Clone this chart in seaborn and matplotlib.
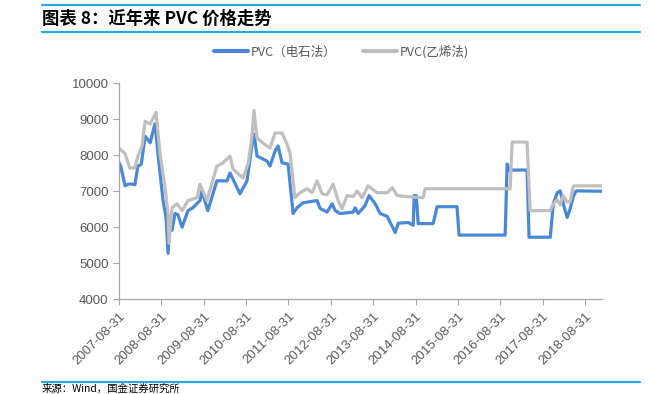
import pandas as pd
import matplotlib
matplotlib.use("Agg")
import matplotlib.pyplot as plt
import matplotlib.dates as mdates
from matplotlib.lines import Line2D
import seaborn as sns

# PVC (电石法)
carbide_dates = ["2007-08-31", "2007-09-15", "2007-10-22", "2007-11-20", "2007-12-20", "2008-01-15",
                 "2008-02-10", "2008-03-10", "2008-04-12", "2008-05-26", "2008-07-06", "2008-08-10",
                 "2008-09-14", "2008-10-10", "2008-10-27", "2008-11-13", "2008-11-30", "2008-12-26",
                 "2009-01-20", "2009-02-25", "2009-04-17", "2009-06-01", "2009-07-29", "2009-08-15",
                 "2009-10-05", "2009-12-22", "2010-03-19", "2010-04-14", "2010-07-09", "2010-09-08",
                 "2010-10-21", "2010-11-07", "2010-12-03", "2011-02-28", "2011-03-25", "2011-05-08",
                 "2011-06-03", "2011-07-07", "2011-08-28", "2011-10-10", "2011-11-13", "2012-01-04",
                 "2012-05-04", "2012-05-30", "2012-07-29", "2012-09-11", "2012-10-07", "2012-11-19",
                 "2013-03-11", "2013-03-28", "2013-04-23", "2013-06-22", "2013-07-27", "2013-09-17",
                 "2013-10-30", "2013-12-30", "2014-01-25", "2014-03-09", "2014-04-04", "2014-06-29",
                 "2014-08-11", "2014-08-20", "2014-09-06", "2014-09-23", "2015-01-30", "2015-03-05",
                 "2015-08-24", "2015-09-10", "2016-10-12", "2016-10-29", "2016-11-16", "2017-04-19",
                 "2017-05-06", "2017-11-05", "2017-12-01", "2018-01-04", "2018-01-30", "2018-03-05",
                 "2018-03-31", "2018-04-26", "2018-05-22", "2018-06-16", "2019-01-25"]
carbide_price = [7800, 7700, 7150, 7200, 7200, 7180,
                 7700, 7750, 8530, 8350, 8880, 7760,
                 6740, 6270, 5270, 6270, 5910, 6380,
                 6350, 6000, 6460, 6550, 6740, 7010,
                 6460, 7290, 7290, 7510, 6930, 7290,
                 8310, 8590, 7980, 7840, 7700, 8120,
                 8260, 7790, 7760, 6380, 6540, 6680,
                 6740, 6520, 6420, 6650, 6460, 6380,
                 6420, 6540, 6380, 6600, 6880, 6650,
                 6380, 6300, 6130, 5850, 6110, 6130,
                 6050, 6880, 6880, 6100, 6100, 6570,
                 6570, 5780, 5780, 7760, 7590, 7590,
                 5720, 5720, 6650, 6960, 7010, 6550,
                 6270, 6520, 6850, 7010, 7000]

# PVC(乙烯法)
ethylene_dates = ["2007-08-31", "2007-10-22", "2007-12-02", "2008-01-15", "2008-02-10", "2008-03-17",
                  "2008-04-12", "2008-05-26", "2008-07-15", "2008-08-19", "2008-10-01", "2008-10-27",
                  "2008-11-04", "2008-11-30", "2009-01-12", "2009-02-25", "2009-04-17", "2009-07-03",
                  "2009-07-29", "2009-09-27", "2009-12-22", "2010-02-13", "2010-04-14", "2010-05-10",
                  "2010-08-04", "2010-09-17", "2010-10-21", "2010-11-07", "2010-12-03", "2011-01-24",
                  "2011-03-25", "2011-05-08", "2011-07-07", "2011-08-19", "2011-09-14", "2011-10-10",
                  "2011-10-27", "2011-12-09", "2012-02-08", "2012-03-22", "2012-05-04", "2012-06-16",
                  "2012-07-29", "2012-09-19", "2012-11-01", "2012-12-06", "2013-01-18", "2013-03-11",
                  "2013-04-14", "2013-05-27", "2013-07-18", "2013-10-03", "2013-12-30", "2014-02-11",
                  "2014-03-26", "2014-06-20", "2014-11-04", "2014-11-21", "2016-11-24", "2016-12-11",
                  "2017-04-19", "2017-05-15", "2017-11-05", "2017-12-01", "2018-01-04", "2018-01-30",
                  "2018-02-24", "2018-03-31", "2018-04-26", "2018-05-22", "2019-01-25"]
ethylene_price = [8200, 8050, 7650, 7650, 7980, 8260,
                  8950, 8870, 9200, 8040, 7100, 6380,
                  5550, 6540, 6650, 6460, 6740, 6820,
                  7200, 6740, 7700, 7790, 7980, 7620,
                  7370, 7760, 8530, 9250, 8480, 8340,
                  8200, 8620, 8620, 8310, 8060, 7290,
                  6820, 6960, 7070, 6960, 7290, 6930,
                  6900, 7200, 6740, 6520, 6880, 6850,
                  7010, 6820, 7150, 6960, 6960, 7100,
                  6880, 6850, 6820, 7070, 7070, 8370,
                  8370, 6460, 6460, 6650, 6760, 6620,
                  6880, 6700, 6720, 7150, 7150]

tick_dates = ["2007-08-31", "2008-08-31", "2009-08-31", "2010-08-31", "2011-08-31", "2012-08-31",
              "2013-08-31", "2014-08-31", "2015-08-31", "2016-08-31", "2017-08-31", "2018-08-31"]
y_ticks = [4000, 5000, 6000, 7000, 8000, 9000, 10000]

df_carbide = pd.DataFrame({"date": pd.to_datetime(carbide_dates), "price": carbide_price})
df_ethylene = pd.DataFrame({"date": pd.to_datetime(ethylene_dates), "price": ethylene_price})

sns.set_style("white")
plt.rcParams['font.family'] = ['Liberation Sans', 'Noto Sans CJK SC', 'DejaVu Sans']

blue = "#4A88D6"
grey = "#BFBFBF"
axis_grey = "#A6A6A6"
text_grey = "#595959"
line_blue = "#2AA6E2"

fig = plt.figure(figsize=(6.51, 3.94), dpi=100)
ax = fig.add_axes([119 / 651, 1 - 299 / 394, (602 - 119) / 651, (299 - 83.5) / 394])

sns.lineplot(x="date", y="price", data=df_carbide, color=blue, linewidth=2.3, ax=ax)
sns.lineplot(x="date", y="price", data=df_ethylene, color=grey, linewidth=2.3, ax=ax)

ax.set_xlim(pd.Timestamp("2007-08-31"), pd.Timestamp("2019-01-25"))
ax.set_ylim(4000, 10000)
ax.set_yticks(y_ticks)
ax.set_xticks(pd.to_datetime(tick_dates))
ax.xaxis.set_major_formatter(mdates.DateFormatter("%Y-%m-%d"))
ax.set_xlabel("")
ax.set_ylabel("")

for lbl in ax.get_xticklabels():
    lbl.set_rotation(45)
    lbl.set_ha("right")
    lbl.set_rotation_mode("anchor")
ax.tick_params(axis="both", colors=axis_grey, labelcolor=text_grey, labelsize=9.5,
               length=4, width=0.8, direction="out", left=True, bottom=True)
ax.tick_params(axis="x", pad=4)

sns.despine(ax=ax)
for side in ["left", "bottom"]:
    ax.spines[side].set_color(axis_grey)
    ax.spines[side].set_linewidth(0.9)

# legend above the plot
handles = [Line2D([], [], color=blue, linewidth=3),
           Line2D([], [], color=grey, linewidth=3)]
fig.legend(handles, ["PVC（电石法）", "PVC(乙烯法)"], loc="center", bbox_to_anchor=(0.5246, 0.868),
           ncol=2, frameon=False, handlelength=2.7, handletextpad=0.25, columnspacing=2.1,
           prop={"family": ["Noto Sans CJK SC"], "size": 9}, labelcolor=text_grey)

# report-style title with blue rules
fig.add_artist(Line2D([42 / 651, 640 / 651], [1 - 5 / 394, 1 - 5 / 394], color=line_blue, linewidth=1.6))
fig.add_artist(Line2D([42 / 651, 640 / 651], [1 - 32 / 394, 1 - 32 / 394], color=line_blue, linewidth=1.6))
fig.add_artist(Line2D([42 / 651, 640 / 651], [1 - 382 / 394, 1 - 382 / 394], color=line_blue, linewidth=1.6))
fig.text(42 / 651, 1 - 18.5 / 394, "图表 8：近年来 PVC 价格走势", ha="left", va="center",
         fontsize=12.5, fontweight="bold", color="black", family=["Noto Sans CJK SC"])
fig.text(42 / 651, 1 - 393.5 / 394, "来源：Wind，国金证券研究所", ha="left", va="bottom",
         fontsize=7.5, color="black", family=["Noto Sans CJK SC"])

plt.savefig("out.png", dpi=100)
